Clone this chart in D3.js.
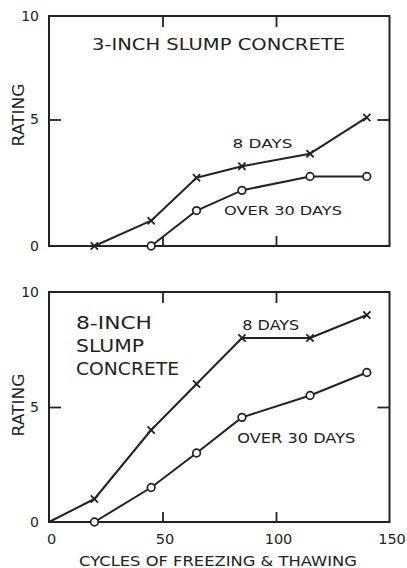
<!DOCTYPE html>
<html>
<head>
<meta charset="utf-8">
<script src="https://cdn.jsdelivr.net/npm/d3@7"></script>
<style>
  html, body { margin: 0; padding: 0; background: #fff; }
  svg { display: block; }
  text { font-family: "DejaVu Sans", "Liberation Sans", sans-serif; fill: #222; }
</style>
</head>
<body>
<svg id="chart" width="407" height="568"></svg>
<script>
// Freeze–thaw cycles at which each rating was taken
const cycles = [0, 20, 45, 65, 85, 115, 140];

// 3-inch slump concrete ratings (null = not tested at that cycle count)
const slump3Days8 = [0, 0, 1.0, 2.7, 3.15, 3.65, 5.1];
const slump3Over30 = [0, null, 0, 1.4, 2.2, 2.75, 2.75];

// 8-inch slump concrete ratings
const slump8Days8 = [0, 1.0, 4.0, 6.0, 8.0, 8.0, 9.0];
const slump8Over30 = [0, 0, 1.5, 3.0, 4.55, 5.5, 6.5];

const ratingTicks = [0, 5, 10];
const cycleTicks = [0, 50, 100, 150];
const innerCycleTicks = [50, 100];
const innerRatingTicks = [5];

const ink = "#222";
const svg = d3.select("#chart");

const x = d3.scaleLinear().domain([0, 150]).range([49, 389.5]);

const panels = [
  {
    y: d3.scaleLinear().domain([0, 5, 10]).range([246, 119.5, 16]),
    series: [
      { values: slump3Days8, marker: "x" },
      { values: slump3Over30, marker: "o" }
    ],
    labels: [
      { lines: ["3-INCH SLUMP CONCRETE"], x: 92, y: 50, len: [253], size: 15, lh: 0 },
      { lines: ["8 DAYS"], x: 232.5, y: 147.5, len: [60], size: 13, lh: 0 },
      { lines: ["OVER 30 DAYS"], x: 224, y: 215, len: [118], size: 13, lh: 0 }
    ],
    ratingTitleY: 115,
    showCycleLabels: false
  },
  {
    y: d3.scaleLinear().domain([0, 10]).range([522, 292]),
    series: [
      { values: slump8Days8, marker: "x" },
      { values: slump8Over30, marker: "o" }
    ],
    labels: [
      { lines: ["8-INCH", "SLUMP", "CONCRETE"], x: 76, y: 329, len: [76, 68, 103], size: 17, lh: 23 },
      { lines: ["8 DAYS"], x: 242.3, y: 330, len: [57], size: 14.5, lh: 0 },
      { lines: ["OVER 30 DAYS"], x: 237.3, y: 442.7, len: [118], size: 14.5, lh: 0 }
    ],
    ratingTitleY: 405,
    showCycleLabels: true
  }
];

panels.forEach(p => {
  const g = svg.append("g");
  const y = p.y;
  const [x0, x1] = x.range();
  const y0 = y(0), y1 = y(10);

  // frame
  g.append("rect")
    .attr("x", x0).attr("y", y1)
    .attr("width", x1 - x0).attr("height", y0 - y1)
    .attr("fill", "none").attr("stroke", ink).attr("stroke-width", 2);

  // inward tick marks on all four sides
  const tickStyle = sel => {
    sel.select(".domain").remove();
    sel.selectAll(".tick line").attr("stroke", ink).attr("stroke-width", 1.8);
  };
  g.append("g").attr("transform", `translate(${x0},0)`)
    .call(d3.axisLeft(y).tickValues(innerRatingTicks).tickSize(-12).tickFormat(""))
    .call(tickStyle);
  g.append("g").attr("transform", `translate(${x1},0)`)
    .call(d3.axisRight(y).tickValues(innerRatingTicks).tickSize(-12).tickFormat(""))
    .call(tickStyle);
  g.append("g").attr("transform", `translate(0,${y1})`)
    .call(d3.axisTop(x).tickValues(innerCycleTicks).tickSize(-11).tickFormat(""))
    .call(tickStyle);
  g.append("g").attr("transform", `translate(0,${y0})`)
    .call(d3.axisBottom(x).tickValues(innerCycleTicks).tickSize(-10).tickFormat(""))
    .call(tickStyle);

  // rating labels
  const ya = g.append("g").attr("transform", `translate(${x0},0)`)
    .call(d3.axisLeft(y).tickValues(ratingTicks).tickSize(0).tickPadding(10).tickFormat(d3.format("d")));
  ya.select(".domain").remove();
  ya.selectAll("text")
    .style("font-family", '"DejaVu Sans", sans-serif')
    .style("font-size", "14px").attr("fill", ink);

  // cycle labels
  if (p.showCycleLabels) {
    const xa = g.append("g").attr("transform", `translate(0,${y0})`)
      .call(d3.axisBottom(x).tickValues(cycleTicks).tickSize(0).tickPadding(12).tickFormat(d3.format("d")));
    xa.select(".domain").remove();
    xa.selectAll("text")
      .attr("dx", 2)
      .style("font-family", '"DejaVu Sans", sans-serif')
      .style("font-size", "14.5px").attr("fill", ink);
  }

  // RATING title
  g.append("text")
    .attr("transform", `translate(23.5,${p.ratingTitleY}) rotate(-90)`)
    .attr("text-anchor", "middle")
    .attr("textLength", 63).attr("lengthAdjust", "spacingAndGlyphs")
    .style("font-size", "15.5px")
    .text("RATING");

  // series lines and markers
  const line = d3.line().x(d => x(d.c)).y(d => y(d.v));
  p.series.forEach(s => {
    const pts = cycles.map((c, i) => ({ c, v: s.values[i] })).filter(d => d.v != null);
    g.append("path")
      .datum(pts)
      .attr("d", line)
      .attr("fill", "none").attr("stroke", ink)
      .attr("stroke-width", 2).attr("stroke-linejoin", "round");

    const marks = pts.filter(d => d.c > 0);
    if (s.marker === "o") {
      g.selectAll(null).data(marks).enter().append("circle")
        .attr("cx", d => x(d.c)).attr("cy", d => y(d.v)).attr("r", 3.8)
        .attr("fill", "#fff").attr("stroke", ink).attr("stroke-width", 1.7);
    } else {
      const h = 3.6;
      g.selectAll(null).data(marks).enter().append("path")
        .attr("d", d => {
          const cx = x(d.c), cy = y(d.v);
          return `M${cx - h},${cy - h}L${cx + h},${cy + h}M${cx - h},${cy + h}L${cx + h},${cy - h}`;
        })
        .attr("stroke", ink).attr("stroke-width", 1.8).attr("fill", "none");
    }
  });

  // in-plot annotations
  p.labels.forEach(l => {
    l.lines.forEach((t, i) => {
      g.append("text")
        .attr("x", l.x).attr("y", l.y + i * l.lh)
        .attr("textLength", l.len[i]).attr("lengthAdjust", "spacingAndGlyphs")
        .style("font-size", l.size + "px")
        .text(t);
    });
  });
});

// shared x-axis title
svg.append("text")
  .attr("x", 79).attr("y", 566)
  .attr("textLength", 278).attr("lengthAdjust", "spacingAndGlyphs")
  .style("font-size", "14.5px")
  .text("CYCLES OF FREEZING & THAWING");
</script>
</body>
</html>
